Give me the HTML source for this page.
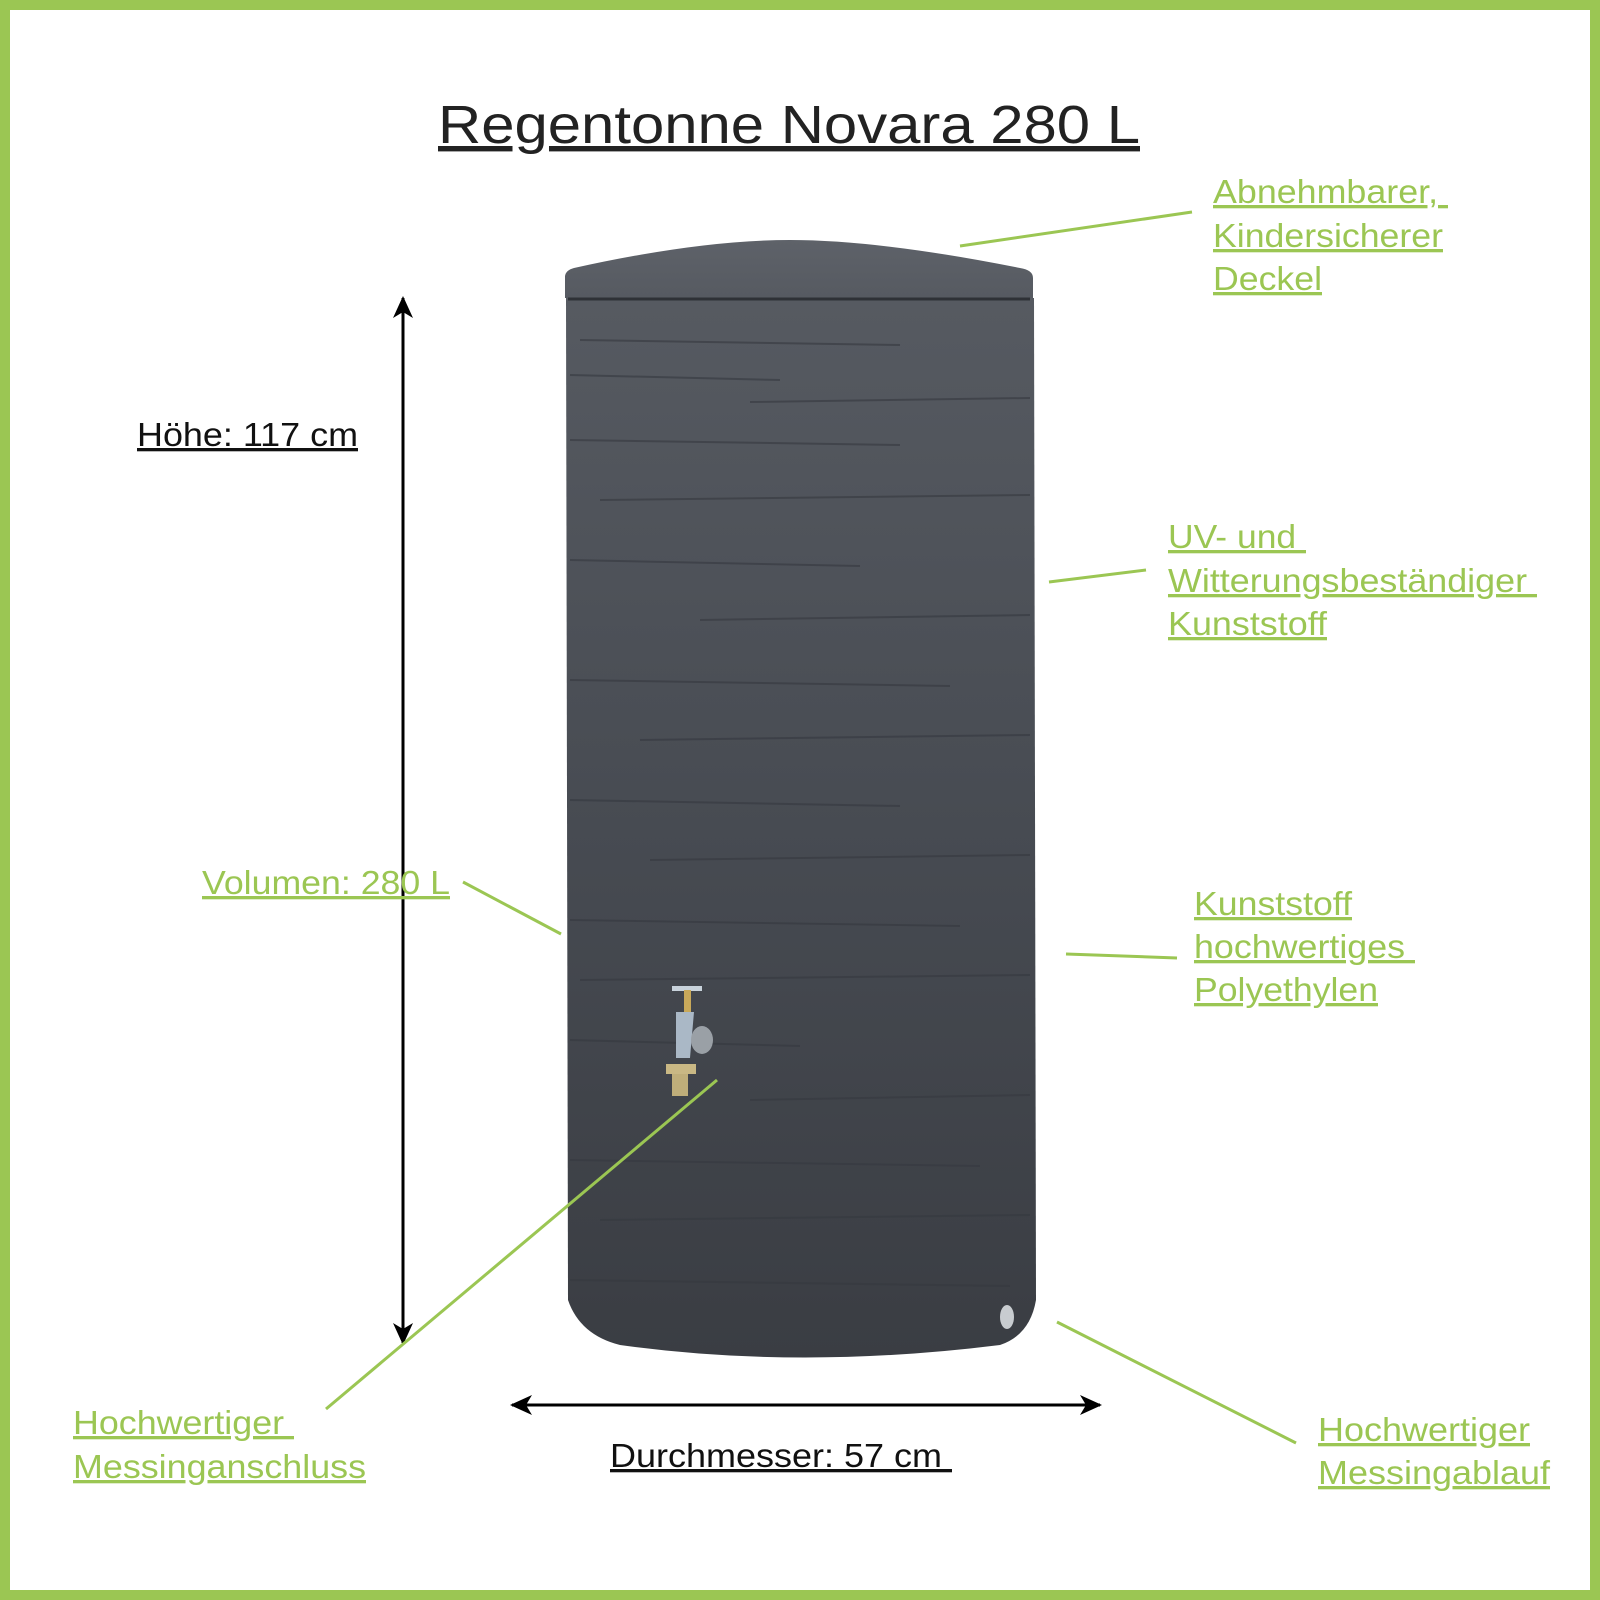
<!DOCTYPE html>
<html><head><meta charset="utf-8"><style>
html,body{margin:0;padding:0;background:#fff}
svg{display:block}
text{font-family:"Liberation Sans",Arial,sans-serif}
.g{fill:#9bc653;font-size:33px;text-decoration:underline}
.k{fill:#111;font-size:33px;text-decoration:underline}
</style></head><body>
<svg width="1600" height="1600" viewBox="0 0 1600 1600" xmlns="http://www.w3.org/2000/svg">
<defs>
<linearGradient id="bd" x1="0" y1="0" x2="0" y2="1">
<stop offset="0" stop-color="#565a61"/><stop offset="0.5" stop-color="#474b52"/><stop offset="1" stop-color="#3a3d43"/>
</linearGradient>
<linearGradient id="ld" x1="0" y1="0" x2="0" y2="1">
<stop offset="0" stop-color="#5e6269"/><stop offset="1" stop-color="#565a61"/>
</linearGradient>
<marker id="ar" markerWidth="22" markerHeight="20" refX="20" refY="10" orient="auto-start-reverse" markerUnits="userSpaceOnUse"><path d="M0,0 L22,10 L0,20 L6,10 z" fill="#000"/></marker>
</defs>
<rect x="5" y="5" width="1590" height="1590" fill="#fff" stroke="#9bc653" stroke-width="10"/>
<text x="438" y="143" font-size="54" fill="#222" style="text-decoration:underline" textLength="702" lengthAdjust="spacingAndGlyphs">Regentonne Novara 280 L</text>
<!-- barrel body -->
<path d="M566,298 L1034,298 L1036,1300 Q1030,1335 1000,1345 Q800,1370 620,1345 Q580,1335 568,1300 Z" fill="url(#bd)"/>
<g stroke="#363940" stroke-width="2" fill="none" opacity="0.6">
<path d="M580,340 L900,345"/><path d="M570,375 L780,380"/><path d="M750,402 L1030,398"/>
<path d="M570,440 L900,445"/><path d="M600,500 L1030,495"/><path d="M570,560 L860,566"/>
<path d="M700,620 L1030,615"/><path d="M570,680 L950,686"/><path d="M640,740 L1030,735"/>
<path d="M570,800 L900,806"/><path d="M650,860 L1030,855"/><path d="M570,920 L960,926"/>
<path d="M580,980 L1030,975"/><path d="M570,1040 L800,1046"/><path d="M750,1100 L1030,1095"/>
<path d="M570,1160 L980,1166"/><path d="M600,1220 L1030,1215"/><path d="M570,1280 L1010,1286"/>
</g>
<!-- lid -->
<path d="M565,298 L565,276 Q566,270 574,268 Q700,240 790,240 Q880,240 1020,268 Q1033,270 1033,278 L1033,298 Z" fill="url(#ld)"/>
<path d="M568,299 L1030,299" stroke="#2e3136" stroke-width="3"/>
<!-- tap -->
<rect x="672" y="986" width="30" height="5" fill="#c9d3dc"/>
<rect x="684" y="990" width="7" height="22" fill="#c9a95a"/>
<path d="M676,1012 L694,1012 L690,1058 L676,1058 Z" fill="#aab8c6"/>
<ellipse cx="702" cy="1040" rx="11" ry="14" fill="#9aa0a6"/>
<rect x="666" y="1064" width="30" height="10" fill="#c9b884"/>
<rect x="672" y="1074" width="16" height="22" fill="#bfae7a"/>
<!-- drain -->
<ellipse cx="1007" cy="1317" rx="7" ry="12" fill="#c8ccd0"/>
<!-- dimension arrows -->
<line x1="403" y1="298" x2="403" y2="1343" stroke="#000" stroke-width="3" marker-start="url(#ar)" marker-end="url(#ar)"/>
<line x1="512" y1="1405" x2="1100" y2="1405" stroke="#000" stroke-width="3" marker-start="url(#ar)" marker-end="url(#ar)"/>
<!-- leader lines -->
<g stroke="#9bc653" stroke-width="3">
<line x1="960" y1="246" x2="1192" y2="212"/>
<line x1="1049" y1="582" x2="1146" y2="570"/>
<line x1="463" y1="882" x2="561" y2="934"/>
<line x1="1066" y1="954" x2="1177" y2="958"/>
<line x1="717" y1="1080" x2="326" y2="1409"/>
<line x1="1057" y1="1322" x2="1296" y2="1443"/>
</g>
<!-- labels -->
<text class="k" x="137" y="446" textLength="221" lengthAdjust="spacingAndGlyphs">Höhe: 117 cm</text>
<text class="k" x="610" y="1467" textLength="342" lengthAdjust="spacingAndGlyphs">Durchmesser: 57 cm&#160;</text>
<text class="g" x="1213" y="203" textLength="235" lengthAdjust="spacingAndGlyphs">Abnehmbarer,&#160;</text>
<text class="g" x="1213" y="247" textLength="230" lengthAdjust="spacingAndGlyphs">Kindersicherer</text>
<text class="g" x="1213" y="290" textLength="109" lengthAdjust="spacingAndGlyphs">Deckel</text>
<text class="g" x="1168" y="548" textLength="138" lengthAdjust="spacingAndGlyphs">UV- und&#160;</text>
<text class="g" x="1168" y="592" textLength="369" lengthAdjust="spacingAndGlyphs">Witterungsbeständiger&#160;</text>
<text class="g" x="1168" y="635" textLength="159" lengthAdjust="spacingAndGlyphs">Kunststoff</text>
<text class="g" x="202" y="894" textLength="248" lengthAdjust="spacingAndGlyphs">Volumen: 280 L</text>
<text class="g" x="1194" y="915" textLength="158" lengthAdjust="spacingAndGlyphs">Kunststoff</text>
<text class="g" x="1194" y="958" textLength="221" lengthAdjust="spacingAndGlyphs">hochwertiges&#160;</text>
<text class="g" x="1194" y="1001" textLength="184" lengthAdjust="spacingAndGlyphs">Polyethylen</text>
<text class="g" x="73" y="1434" textLength="221" lengthAdjust="spacingAndGlyphs">Hochwertiger&#160;</text>
<text class="g" x="73" y="1478" textLength="293" lengthAdjust="spacingAndGlyphs">Messinganschluss</text>
<text class="g" x="1318" y="1441" textLength="212" lengthAdjust="spacingAndGlyphs">Hochwertiger</text>
<text class="g" x="1318" y="1484" textLength="232" lengthAdjust="spacingAndGlyphs">Messingablauf</text>
</svg>
</body></html>
